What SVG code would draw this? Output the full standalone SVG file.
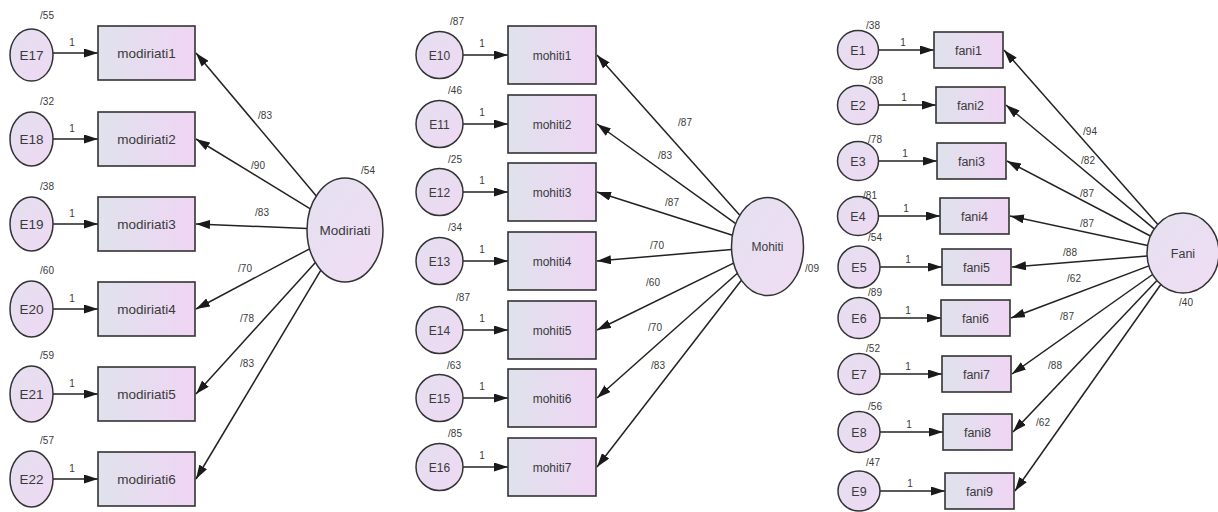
<svg xmlns="http://www.w3.org/2000/svg" width="1218" height="512" viewBox="0 0 1218 512">
<style>
text{font-family:"Liberation Sans",Arial,sans-serif;fill:#3a3a3a;text-anchor:middle}
.box{fill:url(#gBox);stroke:#333;stroke-width:1.6}
.err{fill:url(#gCirc);stroke:#333;stroke-width:1.5}
.lat{fill:url(#gLat);stroke:#333;stroke-width:1.5}
.c line{stroke:#222;stroke-width:1.5;marker-end:url(#ah)}
.sm{font-size:10px}
.t1{font-size:10px}
.lL{font-size:13.5px}
.lM{font-size:12px}
.lR{font-size:12.5px}
</style>
<defs>
<linearGradient id="gBox" x1="0" y1="0" x2="1" y2="0">
<stop offset="0" stop-color="#dfe2ec"/>
<stop offset="1" stop-color="#f0d5f4"/>
</linearGradient>
<linearGradient id="gCirc" x1="0" y1="0" x2="1" y2="1">
<stop offset="0" stop-color="#e4dff0"/>
<stop offset="1" stop-color="#efd9f3"/>
</linearGradient>
<linearGradient id="gLat" x1="0" y1="0" x2="1" y2="1">
<stop offset="0" stop-color="#e4e1f0"/>
<stop offset="1" stop-color="#f1dcf4"/>
</linearGradient>
<marker id="ah" markerWidth="14" markerHeight="9" refX="14" refY="4.5" orient="auto" markerUnits="userSpaceOnUse">
<path d="M0,0 L14,4.5 L0,9 z" fill="#1a1a1a"/>
</marker>
</defs>
<rect width="1218" height="512" fill="#ffffff"/>

<g id="connectors" class="c">
<!-- left: errors -> indicators -->
<line x1="53" y1="53" x2="98" y2="53"/>
<line x1="53" y1="139" x2="98" y2="139"/>
<line x1="53" y1="224" x2="98" y2="224"/>
<line x1="53" y1="309" x2="98" y2="309"/>
<line x1="53" y1="394" x2="98" y2="394"/>
<line x1="53" y1="479" x2="98" y2="479"/>
<!-- left: latent -> indicators -->
<line x1="316.3" y1="195.9" x2="196" y2="53"/>
<line x1="310.3" y1="208.8" x2="196" y2="139"/>
<line x1="307" y1="228.5" x2="196" y2="224"/>
<line x1="309.6" y1="248.8" x2="196" y2="309"/>
<line x1="315.4" y1="262.6" x2="196" y2="394"/>
<line x1="320.9" y1="270.2" x2="196" y2="479"/>
<!-- middle: errors -> indicators -->
<line x1="463" y1="55" x2="508" y2="55"/>
<line x1="463" y1="124" x2="508" y2="124"/>
<line x1="463" y1="192" x2="508" y2="192"/>
<line x1="463" y1="261" x2="508" y2="261"/>
<line x1="463" y1="330" x2="508" y2="330"/>
<line x1="463" y1="398" x2="508" y2="398"/>
<line x1="463" y1="467" x2="508" y2="467"/>
<!-- middle: latent -> indicators -->
<line x1="739.8" y1="215.3" x2="597" y2="55"/>
<line x1="735.7" y1="223.6" x2="597" y2="124"/>
<line x1="732.5" y1="235.3" x2="597" y2="192"/>
<line x1="731.6" y1="249.6" x2="597" y2="261"/>
<line x1="733.6" y1="263.1" x2="597" y2="330"/>
<line x1="737.4" y1="273.3" x2="597" y2="398"/>
<line x1="741.4" y1="280.3" x2="597" y2="467"/>
<!-- right: errors -> indicators -->
<line x1="878.5" y1="50" x2="934" y2="50"/>
<line x1="878.5" y1="105" x2="936" y2="105"/>
<line x1="878.5" y1="161" x2="937" y2="161"/>
<line x1="878.5" y1="216" x2="940" y2="216"/>
<line x1="879.5" y1="267" x2="942" y2="267"/>
<line x1="879.5" y1="318" x2="941" y2="318"/>
<line x1="879.5" y1="374" x2="942" y2="374"/>
<line x1="879.5" y1="432" x2="943" y2="432"/>
<line x1="879.5" y1="491" x2="945" y2="491"/>
<!-- right: latent -> indicators -->
<line x1="1157.8" y1="224.4" x2="1004" y2="50"/>
<line x1="1154.2" y1="228.9" x2="1006" y2="105"/>
<line x1="1150.4" y1="236" x2="1007" y2="161"/>
<line x1="1147.7" y1="245.4" x2="1010" y2="216"/>
<line x1="1147.1" y1="255.9" x2="1012" y2="267"/>
<line x1="1148.9" y1="265.9" x2="1011" y2="318"/>
<line x1="1152.6" y1="274.5" x2="1012" y2="374"/>
<line x1="1156.9" y1="280.5" x2="1013" y2="432"/>
<line x1="1160.8" y1="284.5" x2="1015" y2="491"/>
</g>

<g id="connector-labels" class="sm">
<text x="72" y="45.5">1</text>
<text x="72" y="131.5">1</text>
<text x="72" y="216.5">1</text>
<text x="72" y="301.5">1</text>
<text x="72" y="386.5">1</text>
<text x="72" y="471.5">1</text>
<text x="265" y="118.5">/83</text>
<text x="258" y="168.5">/90</text>
<text x="262" y="215.5">/83</text>
<text x="245" y="271.5">/70</text>
<text x="247" y="321.5">/78</text>
<text x="247" y="366.5">/83</text>
<text x="482" y="46.5">1</text>
<text x="482" y="115.5">1</text>
<text x="482" y="183.5">1</text>
<text x="482" y="252.5">1</text>
<text x="482" y="321.5">1</text>
<text x="482" y="389.5">1</text>
<text x="482" y="458.5">1</text>
<text x="685" y="125.5">/87</text>
<text x="665" y="158.5">/83</text>
<text x="672" y="205.5">/87</text>
<text x="657" y="248.5">/70</text>
<text x="653" y="285.5">/60</text>
<text x="655" y="330.5">/70</text>
<text x="658" y="368.5">/83</text>
<text x="903" y="45.5">1</text>
<text x="904" y="100.5">1</text>
<text x="905" y="156.5">1</text>
<text x="906" y="211.5">1</text>
<text x="908" y="262.5">1</text>
<text x="908" y="313.5">1</text>
<text x="908" y="369.5">1</text>
<text x="909" y="427.5">1</text>
<text x="910" y="486.5">1</text>
<text x="1090" y="134.5">/94</text>
<text x="1088" y="163.5">/82</text>
<text x="1087" y="196.5">/87</text>
<text x="1087" y="226.5">/87</text>
<text x="1070" y="255.5">/88</text>
<text x="1074" y="281.5">/62</text>
<text x="1067" y="319.5">/87</text>
<text x="1055" y="368.5">/88</text>
<text x="1043" y="425.5">/62</text>
</g>

<!-- LEFT PANEL -->
<g id="E17"><ellipse class="err" cx="31.5" cy="55" rx="21.5" ry="26"/><text class="lL" x="31.5" y="59.5">E17</text><text class="sm" x="47" y="18.5">/55</text></g>
<g id="E18"><ellipse class="err" cx="31.5" cy="139" rx="21.5" ry="27"/><text class="lL" x="31.5" y="143.5">E18</text><text class="sm" x="47" y="104.5">/32</text></g>
<g id="E19"><ellipse class="err" cx="31.5" cy="224" rx="21.5" ry="27"/><text class="lL" x="31.5" y="228.5">E19</text><text class="sm" x="47" y="189.5">/38</text></g>
<g id="E20"><ellipse class="err" cx="31.5" cy="309" rx="21.5" ry="28"/><text class="lL" x="31.5" y="313.5">E20</text><text class="sm" x="47" y="273.5">/60</text></g>
<g id="E21"><ellipse class="err" cx="31.5" cy="394" rx="21.5" ry="28"/><text class="lL" x="31.5" y="398.5">E21</text><text class="sm" x="47" y="358.5">/59</text></g>
<g id="E22"><ellipse class="err" cx="31.5" cy="479" rx="21.5" ry="28"/><text class="lL" x="31.5" y="483.5">E22</text><text class="sm" x="47" y="443.5">/57</text></g>
<g id="modiriati1"><rect class="box" x="98" y="26" width="97" height="54"/><text class="lL" x="146.5" y="57.5">modiriati1</text></g>
<g id="modiriati2"><rect class="box" x="98" y="112" width="97" height="54"/><text class="lL" x="146.5" y="143.5">modiriati2</text></g>
<g id="modiriati3"><rect class="box" x="98" y="197" width="97" height="54"/><text class="lL" x="146.5" y="228.5">modiriati3</text></g>
<g id="modiriati4"><rect class="box" x="98" y="282" width="97" height="54"/><text class="lL" x="146.5" y="313.5">modiriati4</text></g>
<g id="modiriati5"><rect class="box" x="98" y="367" width="97" height="54"/><text class="lL" x="146.5" y="398.5">modiriati5</text></g>
<g id="modiriati6"><rect class="box" x="98" y="452" width="97" height="54"/><text class="lL" x="146.5" y="483.5">modiriati6</text></g>
<g id="Modiriati"><ellipse class="lat" cx="345" cy="230" rx="38" ry="52"/><text class="lL" x="345" y="234.5">Modiriati</text><text class="sm" x="368" y="174">/54</text></g>

<!-- MIDDLE PANEL -->
<g id="E10"><circle class="err" cx="439.5" cy="55" r="23.5"/><text class="lM" x="439.5" y="59.5">E10</text><text class="sm" x="457" y="25">/87</text></g>
<g id="E11"><circle class="err" cx="439.5" cy="124" r="23.5"/><text class="lM" x="439.5" y="128.5">E11</text><text class="sm" x="455" y="93.5">/46</text></g>
<g id="E12"><circle class="err" cx="439.5" cy="192" r="23.5"/><text class="lM" x="439.5" y="196.5">E12</text><text class="sm" x="455" y="162.5">/25</text></g>
<g id="E13"><circle class="err" cx="439.5" cy="261" r="23.5"/><text class="lM" x="439.5" y="265.5">E13</text><text class="sm" x="455" y="230.5">/34</text></g>
<g id="E14"><circle class="err" cx="439.5" cy="330" r="23.5"/><text class="lM" x="439.5" y="334.5">E14</text><text class="sm" x="463" y="300.5">/87</text></g>
<g id="E15"><circle class="err" cx="439.5" cy="398" r="23.5"/><text class="lM" x="439.5" y="402.5">E15</text><text class="sm" x="454" y="368.5">/63</text></g>
<g id="E16"><circle class="err" cx="439.5" cy="467" r="23.5"/><text class="lM" x="439.5" y="471.5">E16</text><text class="sm" x="455" y="436.5">/85</text></g>
<g id="mohiti1"><rect class="box" x="508" y="26" width="88" height="58"/><text class="lM" x="552" y="59.5">mohiti1</text></g>
<g id="mohiti2"><rect class="box" x="508" y="95" width="88" height="58"/><text class="lM" x="552" y="128.5">mohiti2</text></g>
<g id="mohiti3"><rect class="box" x="508" y="163" width="88" height="58"/><text class="lM" x="552" y="196.5">mohiti3</text></g>
<g id="mohiti4"><rect class="box" x="508" y="232" width="88" height="58"/><text class="lM" x="552" y="265.5">mohiti4</text></g>
<g id="mohiti5"><rect class="box" x="508" y="301" width="88" height="58"/><text class="lM" x="552" y="334.5">mohiti5</text></g>
<g id="mohiti6"><rect class="box" x="508" y="369" width="88" height="58"/><text class="lM" x="552" y="402.5">mohiti6</text></g>
<g id="mohiti7"><rect class="box" x="508" y="438" width="88" height="58"/><text class="lM" x="552" y="471.5">mohiti7</text></g>
<g id="Mohiti"><ellipse class="lat" cx="767.5" cy="246.5" rx="36" ry="49"/><text class="lM" x="767.5" y="251">Mohiti</text><text class="sm" x="812" y="271.5">/09</text></g>

<!-- RIGHT PANEL -->
<g id="E1"><ellipse class="err" cx="858" cy="50" rx="20.5" ry="19.5"/><text class="lR" x="858" y="54.5">E1</text><text class="sm" x="873" y="28.5">/38</text></g>
<g id="E2"><ellipse class="err" cx="858" cy="105" rx="20.5" ry="19.5"/><text class="lR" x="858" y="109.5">E2</text><text class="sm" x="876" y="83.5">/38</text></g>
<g id="E3"><ellipse class="err" cx="858" cy="161" rx="20.5" ry="19.5"/><text class="lR" x="858" y="165.5">E3</text><text class="sm" x="875" y="142.5">/78</text></g>
<g id="E4"><ellipse class="err" cx="858" cy="216" rx="20.5" ry="19.5"/><text class="lR" x="858" y="220.5">E4</text><text class="sm" x="870" y="198.5">/81</text></g>
<g id="E5"><ellipse class="err" cx="859" cy="267" rx="21" ry="21"/><text class="lR" x="859" y="271.5">E5</text><text class="sm" x="875" y="240.5">/54</text></g>
<g id="E6"><ellipse class="err" cx="859" cy="318" rx="21" ry="20.5"/><text class="lR" x="859" y="322.5">E6</text><text class="sm" x="875" y="295.5">/89</text></g>
<g id="E7"><ellipse class="err" cx="859" cy="374" rx="21" ry="20.5"/><text class="lR" x="859" y="378.5">E7</text><text class="sm" x="873" y="351.5">/52</text></g>
<g id="E8"><ellipse class="err" cx="859" cy="432" rx="21" ry="20.5"/><text class="lR" x="859" y="436.5">E8</text><text class="sm" x="875" y="409.5">/56</text></g>
<g id="E9"><ellipse class="err" cx="859" cy="491" rx="21" ry="20"/><text class="lR" x="859" y="495.5">E9</text><text class="sm" x="873" y="465.5">/47</text></g>
<g id="fani1"><rect class="box" x="934" y="32" width="69" height="36"/><text class="lR" x="968.5" y="54.5">fani1</text></g>
<g id="fani2"><rect class="box" x="936" y="87" width="69" height="36"/><text class="lR" x="970.5" y="109.5">fani2</text></g>
<g id="fani3"><rect class="box" x="937" y="143" width="69" height="36"/><text class="lR" x="971.5" y="165.5">fani3</text></g>
<g id="fani4"><rect class="box" x="940" y="198" width="69" height="36"/><text class="lR" x="974.5" y="220.5">fani4</text></g>
<g id="fani5"><rect class="box" x="942" y="249" width="69" height="36"/><text class="lR" x="976.5" y="271.5">fani5</text></g>
<g id="fani6"><rect class="box" x="941" y="300" width="69" height="36"/><text class="lR" x="975.5" y="322.5">fani6</text></g>
<g id="fani7"><rect class="box" x="942" y="356" width="69" height="36"/><text class="lR" x="976.5" y="378.5">fani7</text></g>
<g id="fani8"><rect class="box" x="943" y="414" width="69" height="36"/><text class="lR" x="977.5" y="436.5">fani8</text></g>
<g id="fani9"><rect class="box" x="945" y="473" width="69" height="36"/><text class="lR" x="979.5" y="495.5">fani9</text></g>
<g id="Fani"><ellipse class="lat" cx="1183" cy="253" rx="36" ry="40"/><text class="lR" x="1183" y="257.5">Fani</text><text class="sm" x="1186" y="305.5">/40</text></g>
</svg>
